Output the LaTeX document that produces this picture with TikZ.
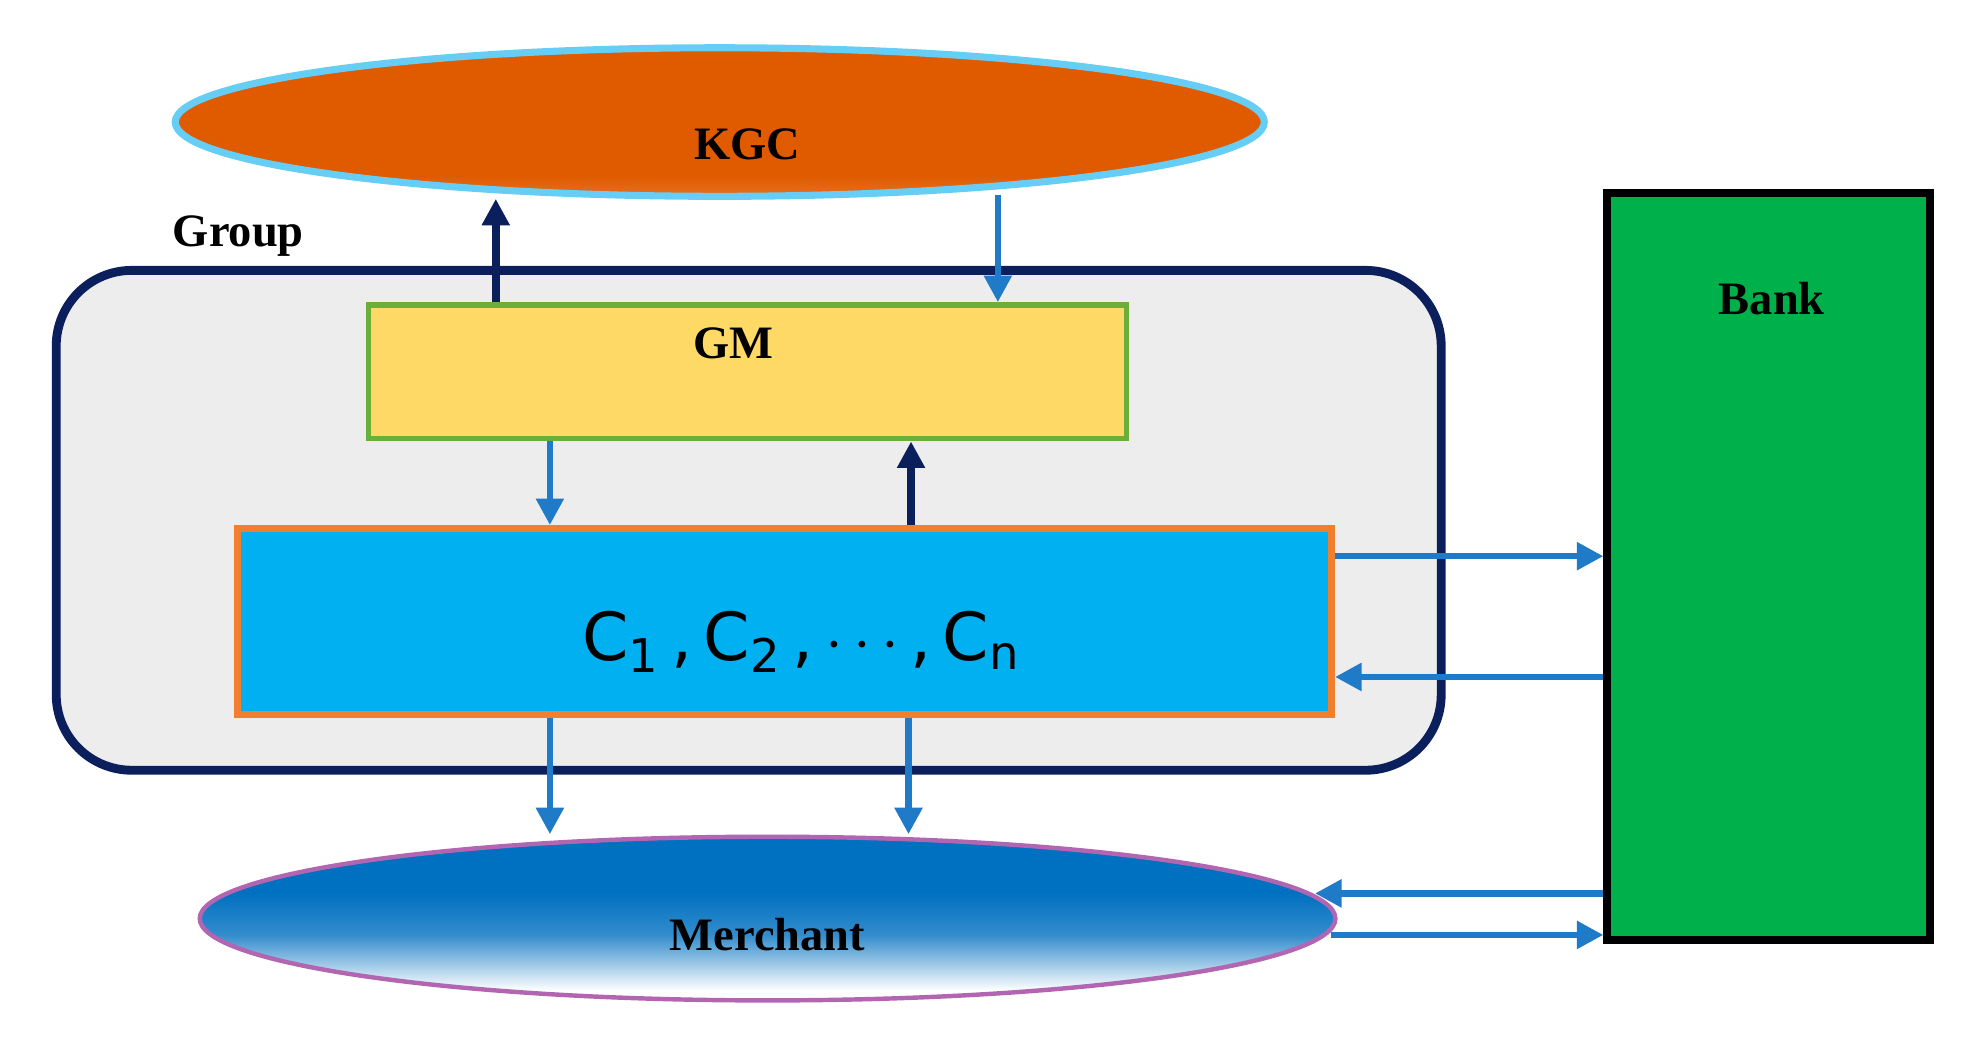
\documentclass[tikz,border=0pt]{standalone}
\usepackage{fontspec}
\setmainfont{Liberation Serif}
\newfontfamily\csans{DejaVu Sans}
\usetikzlibrary{arrows.meta,calc,shapes.geometric}
\definecolor{kgcor}{HTML}{E05A00}
\definecolor{kgclt}{HTML}{F39050}
\definecolor{navy}{HTML}{0A1F5C}
\definecolor{ablue}{HTML}{1F7BC8}
\definecolor{gmy}{HTML}{FFD966}
\definecolor{gmg}{HTML}{6AAF3A}
\definecolor{cbl}{HTML}{00B0F0}
\definecolor{cor}{HTML}{F08030}
\definecolor{mbl}{HTML}{0070C0}
\definecolor{bgr}{HTML}{00B04A}
\pgfdeclareverticalshading{kgcsh}{100bp}{color(0bp)=(kgclt!60!white); color(32bp)=(kgcor); color(100bp)=(kgcor)}
\pgfdeclareverticalshading{mersh}{100bp}{color(0bp)=(white); color(28bp)=(white); color(45bp)=(mbl!80!white); color(58bp)=(mbl); color(100bp)=(mbl)}
\pgfdeclarehorizontalshading{banksh}{100bp}{color(0bp)=(bgr); color(88bp)=(bgr); color(100bp)=(green!60!cyan!70!white)}
\begin{document}
\begin{tikzpicture}[x=0.01cm,y=-0.01cm,
  lab/.style={font=\bfseries\fontsize{10.5}{13}\selectfont},
  arrb/.style={ablue,line width=1.5pt,-{Triangle[length=6pt,width=6pt]}},
  arrn/.style={navy,line width=1.7pt,-{Triangle[length=6pt,width=6pt]}}]
\useasboundingbox (0,0) rectangle (1560,825);
% Group
\node[draw=navy,line width=2pt,fill=black!7,rounded corners=0.6cm,minimum width=11.0cm,minimum height=3.97cm] (grp) at (595,413.5) {};
\node[lab,anchor=west] (glab) at (125,188) {Group};
% KGC
\node[ellipse,draw=cyan!60!white,line width=1.6pt,shading=kgcsh,minimum width=8.65cm,minimum height=1.18cm] (kgc) at (572,97) {};
\node[lab] at (594,115) {KGC};
% GM
\node[draw=gmg,line width=1.3pt,fill=gmy,minimum width=6.02cm,minimum height=1.06cm] (gm) at (594,295.5) {};
\node[lab] at (583,273) {GM};
% C
\node[draw=cor,line width=1.5pt,fill=cbl,minimum width=8.69cm,minimum height=1.48cm] (c) at (623.5,494) {};
\node[font=\csans\fontsize{15}{18}\selectfont] at (637,510) {C\textsubscript{1}\,,\,C\textsubscript{2}\,,\,$\cdots$\,,\,C\textsubscript{n}};
% Merchant
\node[ellipse,draw=violet!60!white,line width=1pt,shading=mersh,minimum width=9.02cm,minimum height=1.3cm] (mer) at (610,730) {};
\node[lab] at (610,743) {Merchant};
% Bank
\node[draw=black,line width=1.8pt,shading=banksh,minimum width=2.56cm,minimum height=5.93cm] (bank) at (1405.5,450) {};
\node[lab] at (1408,237) {Bank};
% coordinates
\coordinate (k1) at (394,158);
\coordinate (k2) at (793,155);
% arrows
\draw[arrn] (gm.north -| k1) -- (k1);
\draw[arrb] (k2) -- (gm.north -| k2);
\draw[arrb] (gm.south -| 437,0) -- (c.north -| 437,0);
\draw[arrn] (c.north -| 724,0) -- (gm.south -| 724,0);
\draw[arrb] (c.south -| 437,0) -- (437,663);
\draw[arrb] (c.south -| 722,0) -- (722,663);
\draw[arrb] (c.east |- 0,442) -- (bank.west |- 0,442);
\draw[arrb] (bank.west |- 0,538) -- (c.east |- 0,538);
\draw[arrb] (bank.west |- 0,710) -- (1045,710);
\draw[arrb] (1058,743) -- (bank.west |- 0,743);
\end{tikzpicture}
\end{document}
